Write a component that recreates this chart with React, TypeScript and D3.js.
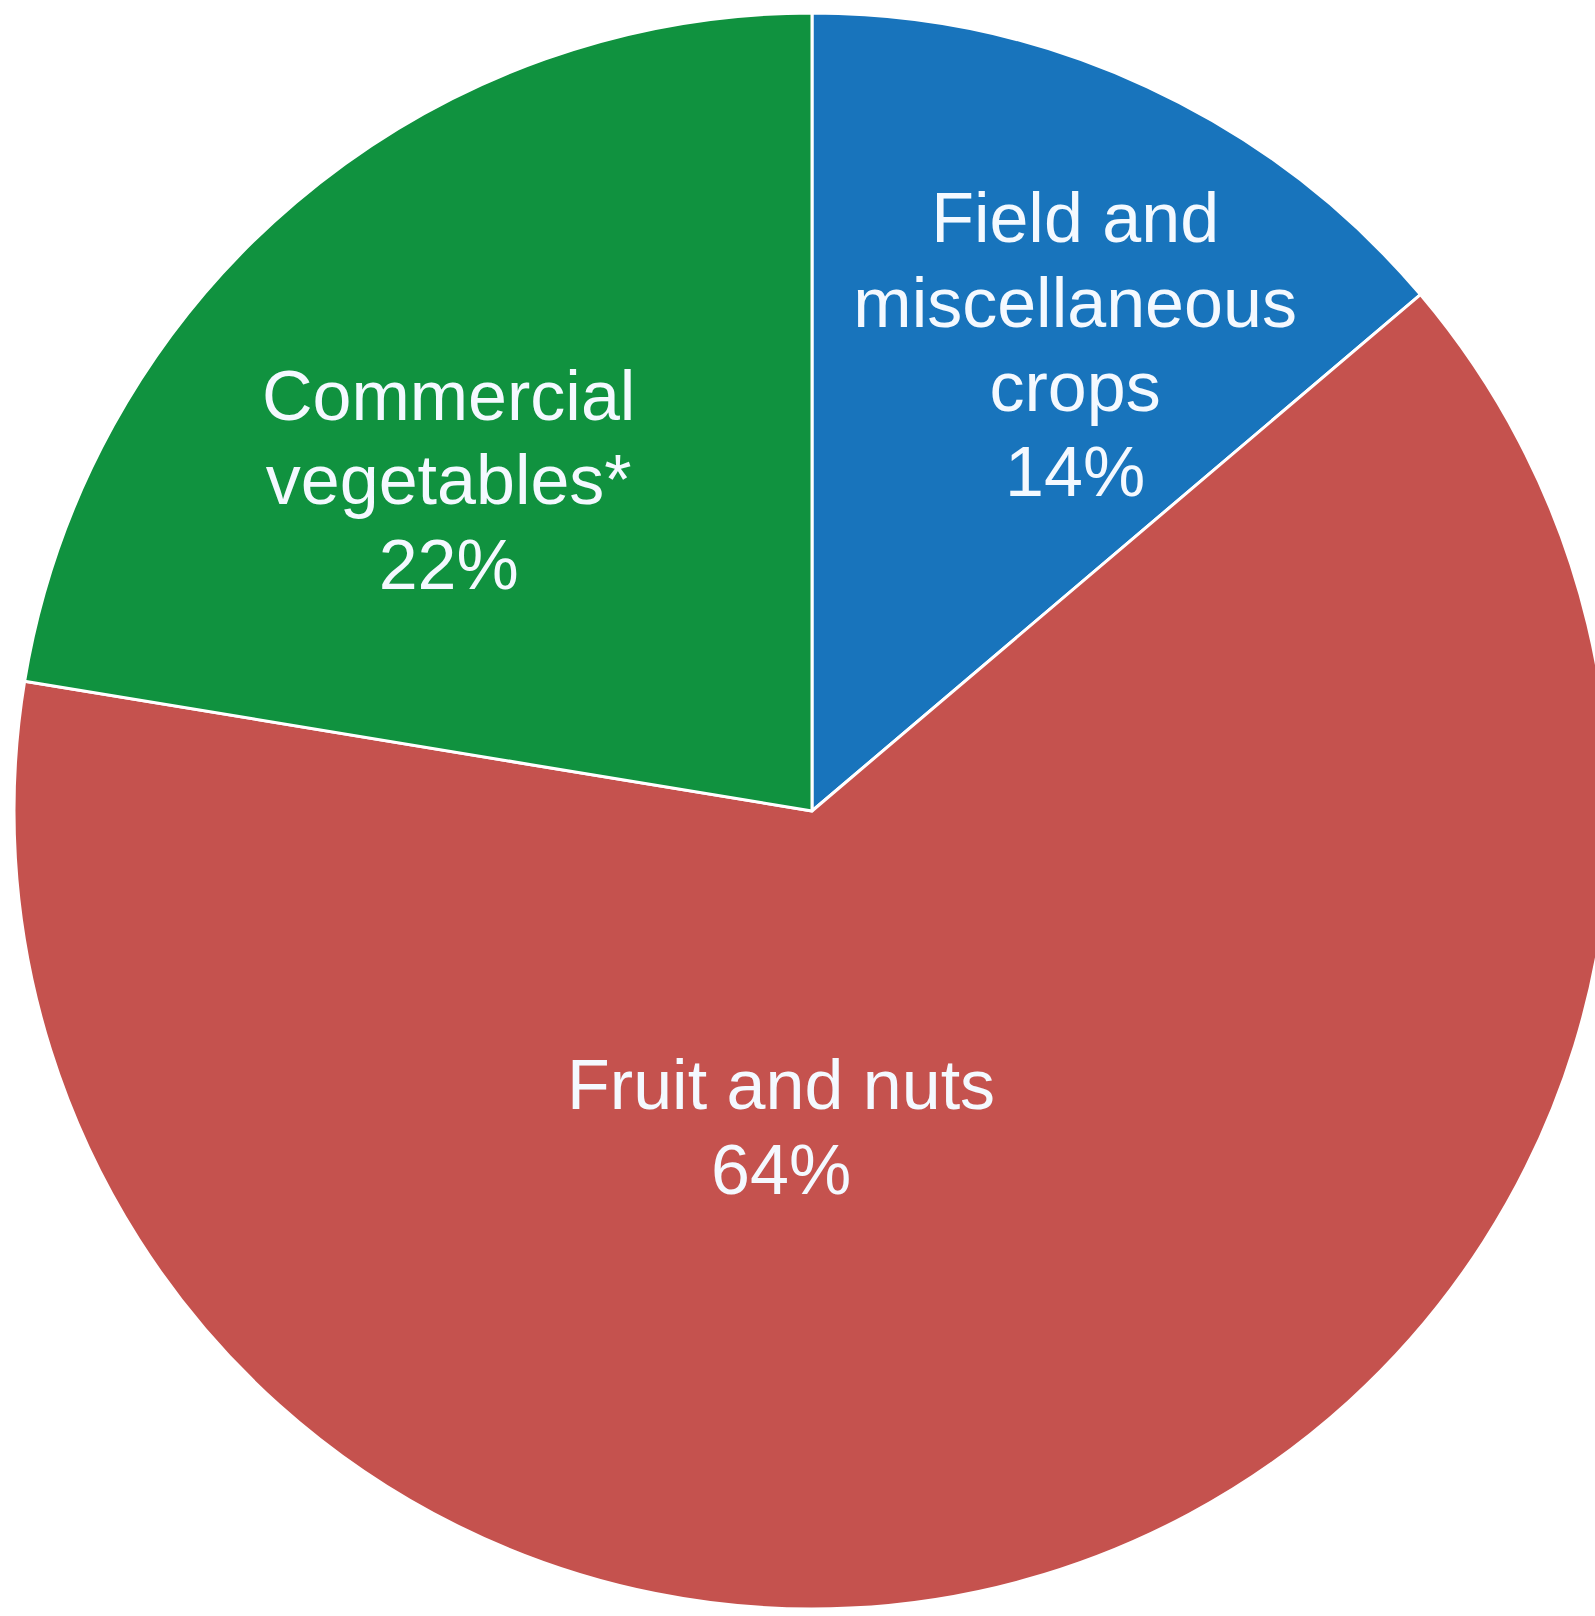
import React from "react";
import * as d3 from "d3";

const categories = ["Field and miscellaneous crops", "Fruit and nuts", "Commercial vegetables*"];
const values = [13.8, 63.8, 22.4];
const percentLabels = ["14%", "64%", "22%"];
const nameLines = [
  ["Field and", "miscellaneous", "crops"],
  ["Fruit and nuts"],
  ["Commercial", "vegetables*"],
];
const colors = ["#1874bc", "#c5524e", "#10923f"];

const W = 1595;
const H = 1616;
const CX = 812;
const CY = 811;
const R = 798;
// label block centre, polar relative to the pie centre (deg clockwise from 12 o'clock, radius)
const labelPolar: [number, number][] = [
  [29.4, 536],
  [185.6, 317],
  [312.4, 492],
];
const LINE_H = 84.5;
const FONT = 70;

export default function App() {
  const pie = d3
    .pie<number>()
    .sort(null)
    .value((d) => d);
  const arcs = pie(values);
  const arc = d3.arc<d3.PieArcDatum<number>>().innerRadius(0).outerRadius(R);

  return (
    <svg
      width={W}
      height={H}
      style={{ position: "absolute", left: 0, top: 0, background: "#fff" }}
    >
      <g transform={`translate(${CX},${CY})`}>
        {arcs.map((a, i) => (
          <path
            key={categories[i]}
            d={arc(a) || ""}
            fill={colors[i]}
            stroke="#ffffff"
            strokeWidth={3}
            strokeLinejoin="round"
          />
        ))}
        {nameLines.map((nl, i) => {
          const lines = [...nl, percentLabels[i]];
          const [deg, rr] = labelPolar[i];
          const t = (deg * Math.PI) / 180;
          const x = Math.sin(t) * rr;
          const y = -Math.cos(t) * rr;
          const n = lines.length;
          return (
            <text
              key={i}
              x={x}
              textAnchor="middle"
              fill="#f4f9ff"
              fontFamily="'Liberation Sans', Arial, Helvetica, sans-serif"
              fontSize={FONT}
            >
              {lines.map((ln, j) => (
                <tspan
                  key={j}
                  x={x}
                  y={y + (j - (n - 1) / 2) * LINE_H + FONT * 0.36}
                >
                  {ln}
                </tspan>
              ))}
            </text>
          );
        })}
      </g>
    </svg>
  );
}
